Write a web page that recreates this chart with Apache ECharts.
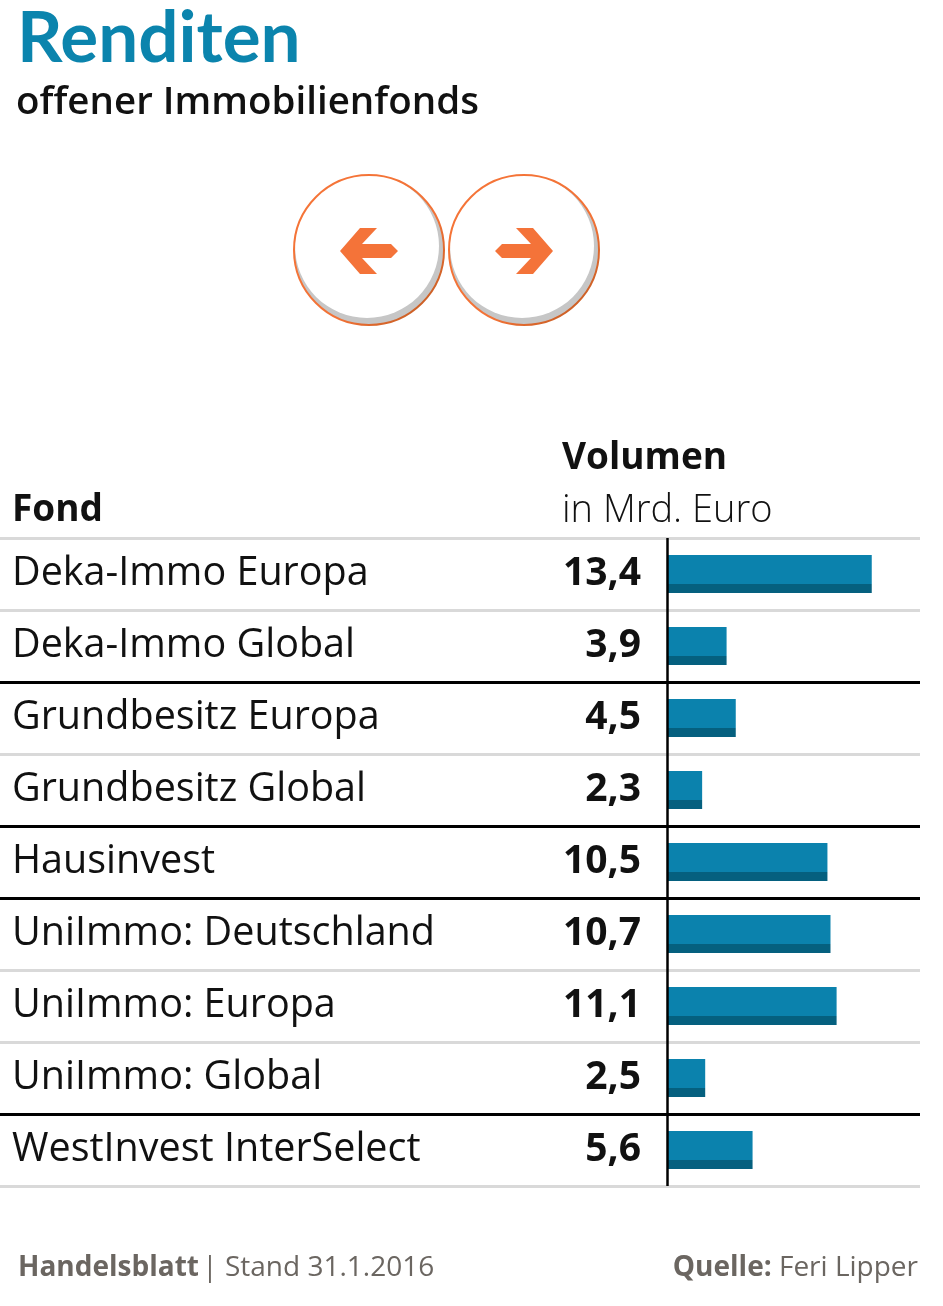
<!DOCTYPE html>
<html>
<head>
<meta charset="utf-8">
<script src="https://cdn.jsdelivr.net/npm/echarts@6/dist/echarts.min.js"></script>
<style>
html,body{margin:0;padding:0;background:#ffffff;}
#chart{width:943px;height:1306px;}
</style>
</head>
<body>
<div id="chart"></div>
<script>
// ---- data ----
const funds = ['Deka-Immo Europa','Deka-Immo Global','Grundbesitz Europa','Grundbesitz Global','Hausinvest','UniImmo: Deutschland','UniImmo: Europa','UniImmo: Global','WestInvest InterSelect'];
const volumes = [13.4, 3.9, 4.5, 2.3, 10.5, 10.7, 11.1, 2.5, 5.6];
const families = ['Deka','Deka','Grundbesitz','Grundbesitz','Hausinvest','UniImmo','UniImmo','UniImmo','WestInvest'];
const titleText = 'Renditen';
const subtitleText = 'offener Immobilienfonds';
const colHeadFund = 'Fond';
const colHeadVol = 'Volumen';
const colHeadUnit = 'in Mrd. Euro';
const footerLeftBold = 'Handelsblatt';
const footerLeftRest = '| Stand 31.1.2016';
const footerRightBold = 'Quelle:';
const footerRightRest = 'Feri Lipper';

// ---- layout constants ----
const FONT = '"Open Sans", sans-serif';
const BLUE = '#0b82ad';
const BLUE_DARK = '#05607f';
const ORANGE = '#f47339';
const GRAY_TXT = '#6b6661';
const gridLeft = 0, gridRight = 920, zeroX = 667, pxPerUnit = 15.28;
const xMin = -(zeroX - gridLeft) / pxPerUnit;
const xMax = (gridRight - zeroX) / pxPerUnit;

// separator colours: black at family boundaries, gray otherwise
const sepColors = [];
for (let i = 0; i <= funds.length; i++) {
  if (i === 0 || i === funds.length) sepColors.push('#d9d9d9');
  else sepColors.push(families[i] !== families[i - 1] ? '#000000' : '#d9d9d9');
}

function fmt(v) { return v.toFixed(1).replace('.', ','); }

function arrowPoints(cx, cy, dir) {
  const pts = [[-29,0],[-9,-23],[8,-23],[-7,-7],[22,-7],[29,0],[22,7],[-7,7],[8,23],[-9,23]];
  return pts.map(p => [cx + dir * p[0], cy + p[1]]);
}
function button(cx, cy, dir) {
  return [
    { type: 'circle', shape: { cx: cx, cy: cy, r: 75 }, style: { fill: '#c6c6c6' }, z: 10 },
    { type: 'circle', shape: { cx: cx - 2, cy: cy - 4, r: 72 }, style: { fill: '#ffffff' }, z: 11 },
    { type: 'circle', shape: { cx: cx, cy: cy, r: 75 }, style: { fill: 'none', lineWidth: 2,
      stroke: new echarts.graphic.LinearGradient(0, 0, 1, 1, [
        { offset: 0, color: '#f67538' }, { offset: 0.62, color: '#f27236' }, { offset: 1, color: '#b5551c' }]) }, z: 12 },
    { type: 'polygon', shape: { points: arrowPoints(cx, cy + 1, dir) }, style: { fill: ORANGE }, z: 13 }
  ];
}

const chart = echarts.init(document.getElementById('chart'), null, { renderer: 'canvas' });
chart.setOption({
  backgroundColor: '#ffffff',
  animation: false,
  grid: { left: gridLeft, width: gridRight - gridLeft, top: 538, height: 648 },
  xAxis: { type: 'value', min: xMin, max: xMax, show: false },
  yAxis: [
    {
      type: 'category', data: funds, inverse: true,
      axisLine: { show: false }, axisTick: { show: false },
      axisLabel: { inside: true, margin: 12, align: 'left', fontFamily: FONT, fontSize: 39.5, color: '#111111' },
      splitLine: { show: true, interval: 0, lineStyle: { color: sepColors, width: 3 } }
    },
    {
      type: 'category', data: funds, inverse: true, position: 'left',
      axisLine: { show: false }, axisTick: { show: false }, splitLine: { show: false },
      axisLabel: { inside: true, margin: 641, align: 'right', fontFamily: FONT, fontSize: 39, fontWeight: 'bold', color: '#111111',
        formatter: function (val, idx) { return fmt(volumes[idx]); } }
    }
  ],
  series: [{
    type: 'bar', data: volumes, yAxisIndex: 0, barWidth: 38,
    itemStyle: {
      color: new echarts.graphic.LinearGradient(0, 0, 0, 1, [
        { offset: 0, color: BLUE }, { offset: 0.763, color: BLUE },
        { offset: 0.763, color: BLUE_DARK }, { offset: 1, color: BLUE_DARK }])
    },
    markLine: {
      silent: true, symbol: 'none', label: { show: false },
      lineStyle: { color: '#000000', width: 2.5, type: 'solid' },
      data: [{ xAxis: 0 }]
    }
  }],
  graphic: [
    { type: 'text', left: 17, top: 4, style: { text: titleText, fill: '#0b84ad', font: 'bold 71px Lato, sans-serif' } },
    { type: 'text', left: 16, top: 84, style: { text: subtitleText, fill: '#111111', font: '600 38.5px ' + FONT } },
    { type: 'text', left: 562, top: 440, style: { text: colHeadVol, fill: '#111111', font: 'bold 37px ' + FONT } },
    { type: 'text', left: 562, top: 492, style: { text: colHeadUnit, fill: '#111111', font: '300 38px ' + FONT } },
    { type: 'text', left: 12, top: 492, style: { text: colHeadFund, fill: '#111111', font: 'bold 37px ' + FONT } },
    { type: 'text', left: 18, top: 1254, style: {
      text: '{b|' + footerLeftBold + '} {r|' + footerLeftRest + '}',
      rich: { b: { font: 'bold 28px ' + FONT, fill: GRAY_TXT }, r: { font: '28px ' + FONT, fill: GRAY_TXT } } } },
    { type: 'text', right: 25, top: 1254, style: {
      text: '{b|' + footerRightBold + '}{r| ' + footerRightRest + '}',
      rich: { b: { font: 'bold 28px ' + FONT, fill: GRAY_TXT }, r: { font: '28px ' + FONT, fill: GRAY_TXT } } } }
  ].concat(button(369, 250, 1), button(524, 250, -1))
});
</script>
</body>
</html>
